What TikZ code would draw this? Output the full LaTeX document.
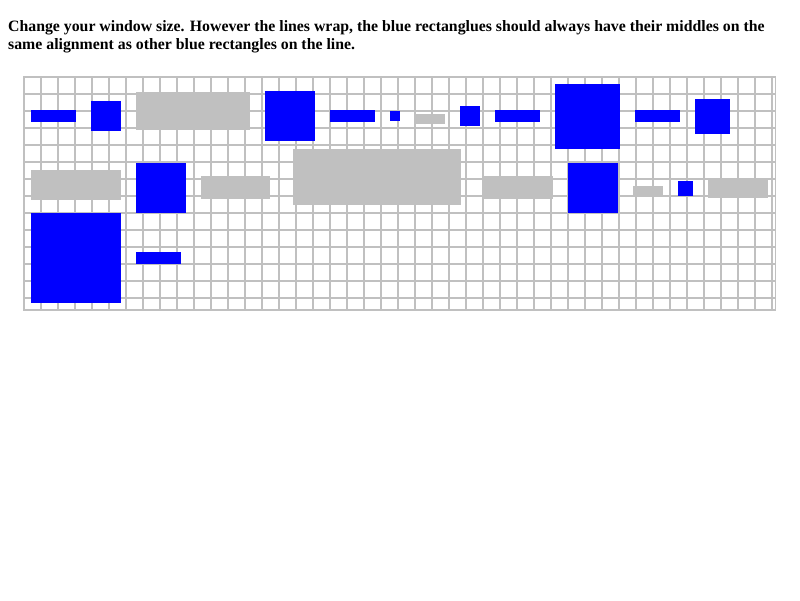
\documentclass[tikz,border=0pt]{standalone}
\usepackage{fontspec}
\setmainfont{Liberation Serif}
\usetikzlibrary{positioning}
\definecolor{silver}{HTML}{C0C0C0}
\tikzstyle{bluebox} = [rectangle, fill=blue, draw=none, inner sep=0pt, outer sep=0pt]
\tikzstyle{graybox} = [rectangle, fill=silver, draw=none, inner sep=0pt, outer sep=0pt]
\tikzstyle{gridline} = [draw=silver, line width=1.4pt]
\tikzstyle{note} = [anchor=base west, inner sep=0pt, font=\bfseries\fontsize{15.8}{18}\selectfont]

\begin{document}
\begin{tikzpicture}[x=1pt, y=-1pt]
        \useasboundingbox[fill=white] (0,0) rectangle (800,600);
        % heading text
        \node[note] (t1) at (8,31.5) {Change your window size. However the lines wrap, the blue rectanglues should always have their middles on the};
        \node[note] (t2) at (8,49) {same alignment as other blue rectangles on the line.};

        % background grid
        \foreach \gx in {0,...,44} \draw[gridline] (24+17*\gx,77) -- (24+17*\gx,310);
        \foreach \gy in {0,...,13} \draw[gridline] (24,77+17*\gy) -- (776,77+17*\gy);
        \draw[gridline] (23.7,76.7) rectangle (775.5,310);

        % first line
        \node[bluebox, minimum width=45pt, minimum height=12pt] (b1) at (53.5,116) {};
        \node[bluebox, minimum width=30pt, minimum height=30pt] (b2) at (106,116) {};
        \node[graybox, minimum width=114pt, minimum height=38pt] (g1) at (193,111) {};
        \node[bluebox, minimum width=50pt, minimum height=50pt] (b3) at (290,116) {};
        \node[bluebox, minimum width=45pt, minimum height=12pt] (b4) at (352.5,116) {};
        \node[bluebox, minimum width=10pt, minimum height=10pt] (b5) at (395,116) {};
        \node[graybox, minimum width=30pt, minimum height=10pt] (g2) at (430,119) {};
        \node[bluebox, minimum width=20pt, minimum height=20pt] (b6) at (470,116) {};
        \node[bluebox, minimum width=45pt, minimum height=12pt] (b7) at (517.5,116) {};
        \node[bluebox, minimum width=65pt, minimum height=65pt] (b8) at (587.5,116.5) {};
        \node[bluebox, minimum width=45pt, minimum height=12pt] (b9) at (657.5,116) {};
        \node[bluebox, minimum width=35pt, minimum height=35pt] (b10) at (712.5,116.5) {};

        % second line
        \node[graybox, minimum width=90pt, minimum height=30pt] (g3) at (76,185) {};
        \node[bluebox, minimum width=50pt, minimum height=50pt] (b11) at (161,188) {};
        \node[graybox, minimum width=69pt, minimum height=23pt] (g4) at (235.5,187.5) {};
        \node[graybox, minimum width=168pt, minimum height=56pt] (g5) at (377,177) {};
        \node[graybox, minimum width=71pt, minimum height=23pt] (g6) at (517.5,187.5) {};
        \node[bluebox, minimum width=50pt, minimum height=50pt] (b12) at (593,188) {};
        \node[graybox, minimum width=30pt, minimum height=10pt] (g7) at (648,191) {};
        \node[bluebox, minimum width=15pt, minimum height=15pt] (b13) at (685.5,188.5) {};
        \node[graybox, minimum width=60pt, minimum height=20pt] (g8) at (738,188) {};

        % third line
        \node[bluebox, minimum width=90pt, minimum height=90pt] (b14) at (76,258) {};
        \node[bluebox, minimum width=45pt, minimum height=12pt] (b15) at (158.5,258) {};
    \end{tikzpicture}
\end{document}
